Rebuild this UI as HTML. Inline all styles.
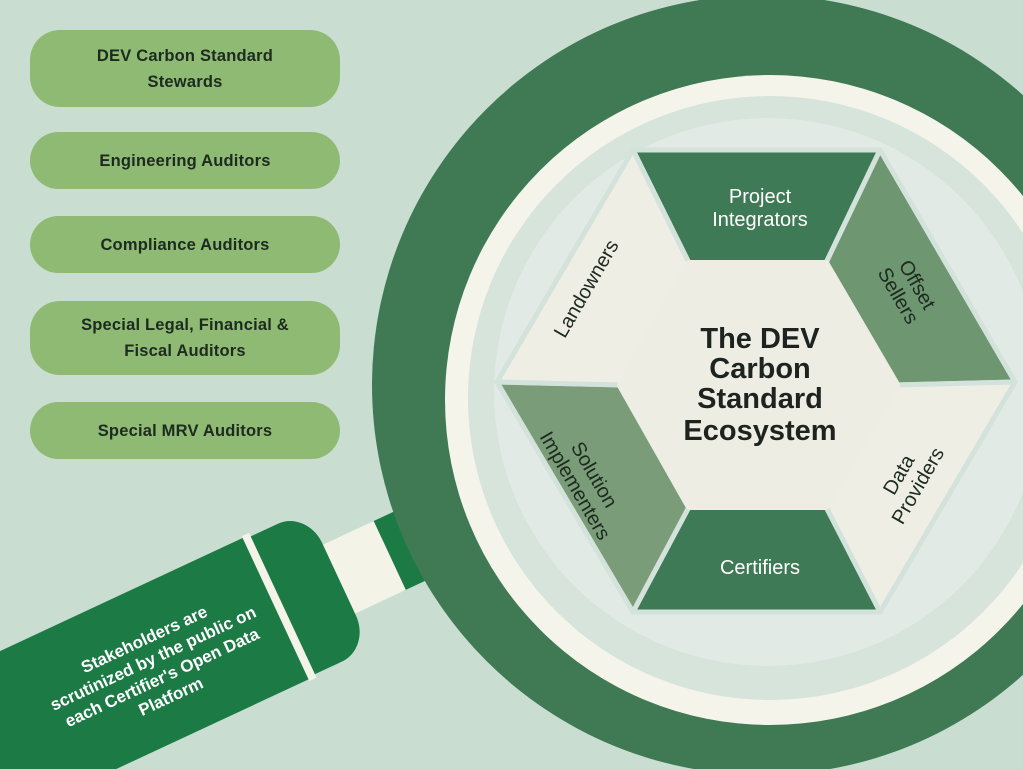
<!DOCTYPE html>
<html><head><meta charset="utf-8"><style>
html,body{margin:0;padding:0;overflow:hidden}
body{width:1023px;height:769px;overflow:hidden;background:#c9ddd1;font-family:"Liberation Sans",sans-serif;position:relative}
.pill{position:absolute;left:30px;width:310px;background:#8fba74;border-radius:30px;display:flex;align-items:center;justify-content:center;text-align:center;font-weight:bold;font-size:16.5px;color:#1d2a1f;line-height:26px;letter-spacing:0.2px}
svg{position:absolute;left:0;top:0}
</style></head><body>
<svg width="1023" height="769" viewBox="0 0 1023 769">
  <g transform="translate(455,525) rotate(-25)">
    <rect x="-75" y="-38" width="125" height="76" fill="#1c7a45"/>
    <rect x="-150" y="-38" width="78" height="76" fill="#f4f3e8"/>
    <rect x="-192" y="-76" width="64" height="152" rx="36" fill="#1c7a45"/>
    <rect x="-192" y="-76" width="30" height="152" fill="#1c7a45"/>
    <rect x="-198" y="-80" width="8" height="160" fill="#f4f3e8"/>
    <rect x="-560" y="-78" width="362" height="156" fill="#1c7a45"/>
    <text x="-330" y="-22" fill="#fff" font-size="17" font-weight="bold" text-anchor="middle">Stakeholders are</text>
    <text x="-330" y="-1" fill="#fff" font-size="17" font-weight="bold" text-anchor="middle">scrutinized by the public on</text>
    <text x="-330" y="20" fill="#fff" font-size="17" font-weight="bold" text-anchor="middle">each Certifier's Open Data</text>
    <text x="-330" y="41" fill="#fff" font-size="17" font-weight="bold" text-anchor="middle">Platform</text>
  </g>
  <circle cx="762" cy="385" r="390" fill="#3f7a55"/>
  <circle cx="770" cy="400" r="325" fill="#f5f4ea"/>
  <circle cx="770" cy="398" r="302" fill="#d6e4dc"/>
  <circle cx="768" cy="392" r="274" fill="#e1eae4"/>
  <g stroke="#d3e2da" stroke-width="5" stroke-linejoin="round">
    <polygon points="633,150 880,150 825,265 690,265" fill="#3e7a55"/>
    <polygon points="880,150 1015,382 895,385 825,265" fill="#6e9670"/>
    <polygon points="1015,382 880,612 825,505 895,385" fill="#efeee5"/>
    <polygon points="880,612 633,612 690,505 825,505" fill="#3e7a55"/>
    <polygon points="633,612 497,382 622,385 690,505" fill="#7a9c78"/>
    <polygon points="497,382 633,150 690,265 622,385" fill="#efeee5"/>
  </g>
  <polygon points="690,265 825,265 895,385 825,505 690,505 622,385" fill="#eeede4" stroke="#eeede4" stroke-width="10" stroke-linejoin="round"/>
  <g font-family="Liberation Sans, sans-serif" text-anchor="middle">
    <text x="760" y="203" fill="#fff" font-size="20">Project</text>
    <text x="760" y="226" fill="#fff" font-size="20">Integrators</text>
    <text x="760" y="574" fill="#fff" font-size="20">Certifiers</text>
    <text transform="translate(592,292) rotate(-60)" fill="#1d2a1f" font-size="20">Landowners</text>
    <g transform="translate(908,290) rotate(60)" fill="#1d2a1f" font-size="20"><text x="0" y="-4">Offset</text><text x="0" y="18">Sellers</text></g>
    <g transform="translate(908,480) rotate(-60)" fill="#1d2a1f" font-size="20"><text x="0" y="-4">Data</text><text x="0" y="18">Providers</text></g>
    <g transform="translate(585,480) rotate(60)" fill="#1d2a1f" font-size="20"><text x="0" y="-4">Solution</text><text x="0" y="18">Implementers</text></g>
    <g fill="#1d2420" font-size="29" font-weight="bold">
      <text x="760" y="348">The DEV</text>
      <text x="760" y="378">Carbon</text>
      <text x="760" y="408">Standard</text>
      <text x="760" y="440">Ecosystem</text>
    </g>
  </g>
</svg>
<div class="pill" style="top:30px;height:77px">DEV Carbon Standard<br>Stewards</div>
<div class="pill" style="top:132px;height:57px">Engineering Auditors</div>
<div class="pill" style="top:216px;height:57px">Compliance Auditors</div>
<div class="pill" style="top:301px;height:74px">Special Legal, Financial &amp;<br>Fiscal Auditors</div>
<div class="pill" style="top:402px;height:57px">Special MRV Auditors</div>
</body></html>
